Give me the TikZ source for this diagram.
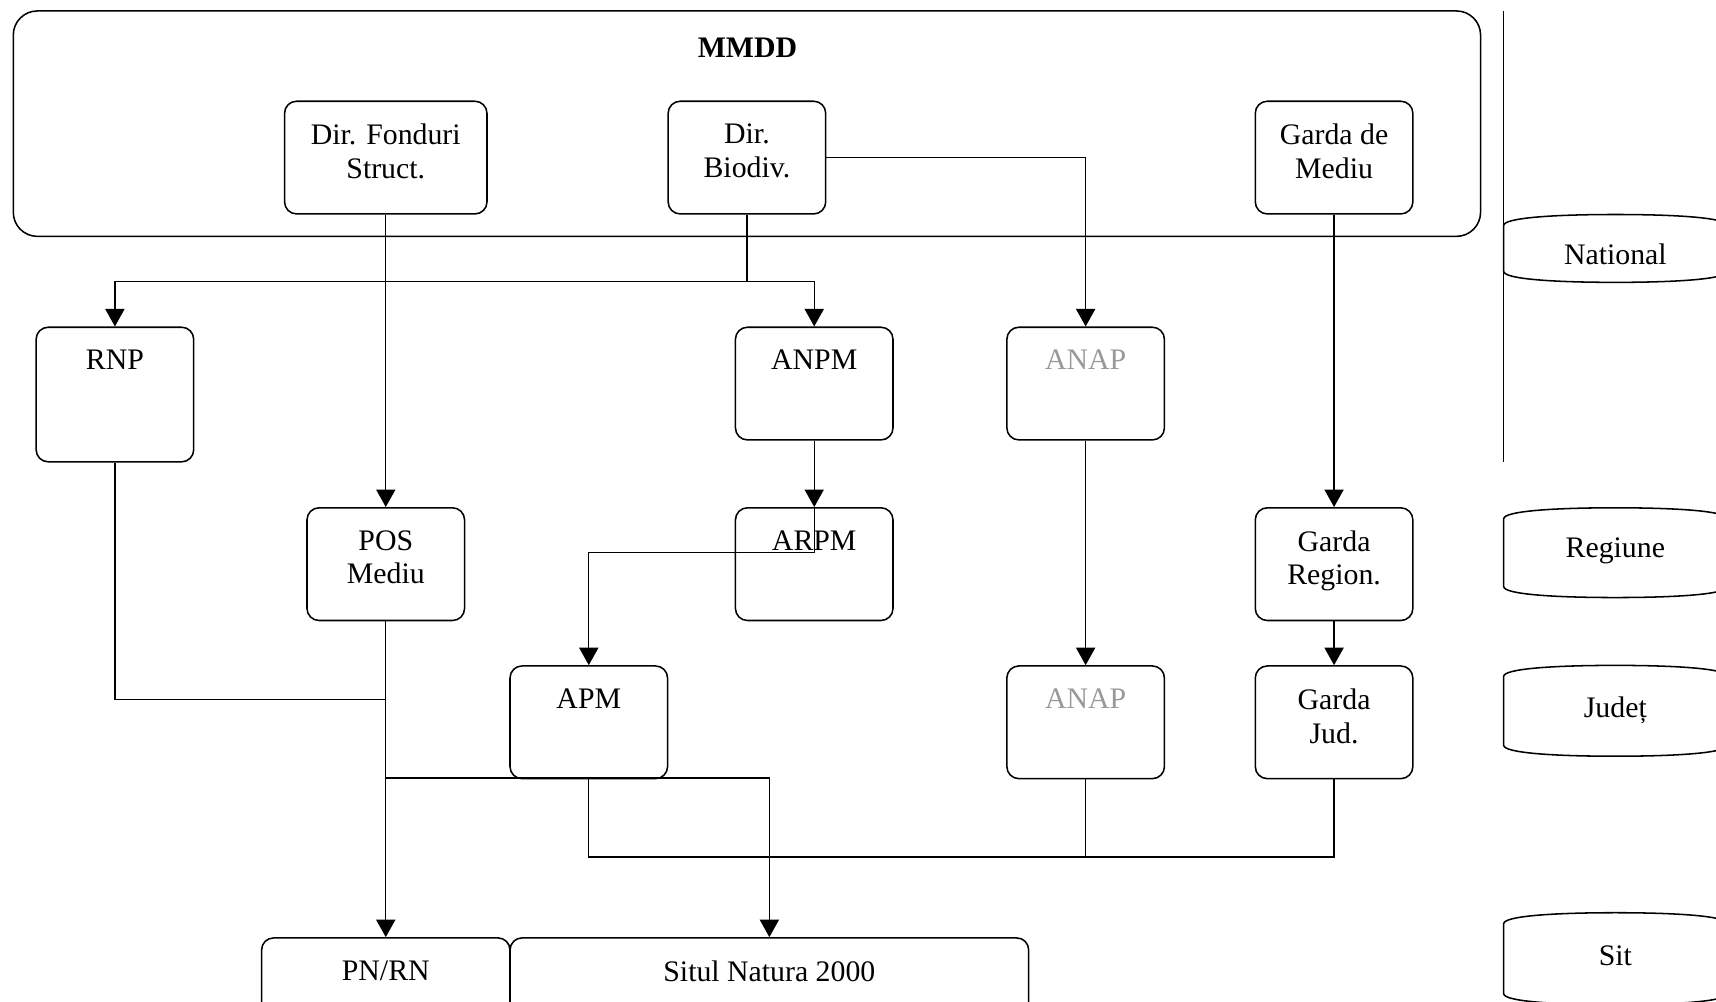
\documentclass[tikz,border=0pt]{standalone}
\usepackage{fontspec}
\setmainfont{Liberation Serif}
\usetikzlibrary{arrows.meta}
\colorlet{grt}{black!40}
\tikzset{
    unit/.style={draw,line width=0.8pt,rounded corners=0.22cm,minimum width=2.88cm,minimum height=2.06cm,inner sep=0pt},
    lbl/.style={anchor=north,yshift=-0.42cm,inner sep=0pt,align=center},
    conn/.style={line width=0.7pt},
    arr/.style={conn,-{Triangle[width=0.35cm,length=0.32cm]}}
}
\begin{document}
\begin{tikzpicture}[x=0.02cm,y=-0.02cm,font=\fontsize{15.5}{17.6}\selectfont]
        \useasboundingbox (0,0) rectangle (1568,915);
        \clip (0,0) rectangle (1568,915);
        \node [draw,line width=0.8pt,rounded corners=0.44cm,minimum width=26.82cm,minimum height=4.12cm] (mmdd) at (682.5,113) {};
        \node (mmddname) at (683,44) {\bfseries MMDD};
        \node [unit,minimum width=3.7cm,label={[lbl]north:Dir. Fonduri\\Struct.}] (dfs) at (352.5,144) {};
        \node [unit,label={[lbl]north:Dir.\\Biodiv.}] (dbio) at (682.5,144) {};
        \node [unit,label={[lbl]north:Garda de\\Mediu}] (gdm) at (1219,144) {};
        \node [unit,minimum height=2.46cm,label={[lbl]north:RNP}] (rnp) at (105,360.5) {};
        \node [unit,label={[lbl]north:ANPM}] (anpm) at (744,350.5) {};
        \node [unit,label={[lbl,grt]north:ANAP}] (anap1) at (992,350.5) {};
        \node [unit,label={[lbl]north:POS\\Mediu}] (pos) at (352.5,515.5) {};
        \node [unit,label={[lbl]north:ARPM}] (arpm) at (744,515.5) {};
        \node [unit,label={[lbl]north:Garda\\Region.}] (greg) at (1219,515.5) {};
        \node [unit,label={[lbl]north:APM}] (apm) at (538,660) {};
        \node [unit,label={[lbl,grt]north:ANAP}] (anap2) at (992,660) {};
        \node [unit,label={[lbl]north:Garda\\Jud.}] (gjud) at (1219,660) {};
        \node [unit,minimum width=4.54cm,label={[lbl]north:PN/RN}] (pnrn) at (352.5,908.5) {};
        \node [unit,minimum width=9.48cm,label={[lbl]north:Situl Natura 2000}] (sit) at (703,908.5) {};
        \coordinate (bsplit) at (682.5,257);
        \coordinate (arpmin) at (744,505);
        \coordinate (rnpjoin) at (352.5,639);
        \coordinate (sjoin) at (352.5,711);
        \coordinate (busl) at (538,783);
        \coordinate (busr) at (1219,783);
        \draw [arr] (dfs) -- (pos);
        \draw [conn] (dbio) -- (bsplit);
        \draw [arr] (bsplit) -| (rnp);
        \draw [arr] (bsplit) -| (anpm);
        \draw [arr] (dbio.east) -| (anap1);
        \draw [arr] (gdm) -- (greg);
        \draw [arr] (anpm) -- (arpm);
        \draw [arr] (arpm.north) -- (arpmin) -| (apm);
        \draw [arr] (anap1) -- (anap2);
        \draw [arr] (greg) -- (gjud);
        \draw [conn] (rnp) |- (rnpjoin);
        \draw [arr] (pos) -- (pnrn);
        \draw [arr] (sjoin) -| (sit);
        \draw [conn] (apm) -- (busl) -- (busr) -- (gjud);
        \draw [conn] (anap2) -- (anap2 |- busl);
        \draw [line width=0.8pt] (1374,10) -- (1374,422);
        \foreach \yt/\yb/\ty/\lvl [count=\i] in {196/258/232/National,464/546/503/Regiune,608/691/649/Județ,834/918/873/Sit} {
            \draw [line width=0.8pt] (1374,\yt+10)
                .. controls (1374,\yt+3) and (1420,\yt) .. (1476,\yt)
                .. controls (1532,\yt) and (1578,\yt+3) .. (1578,\yt+10)
                -- (1578,\yb-10)
                .. controls (1578,\yb-3) and (1532,\yb) .. (1476,\yb)
                .. controls (1420,\yb) and (1374,\yb-3) .. (1374,\yb-10)
                -- cycle;
            \node (level\i) at (1476,\ty) {\lvl};
        }
    \end{tikzpicture}
\end{document}
